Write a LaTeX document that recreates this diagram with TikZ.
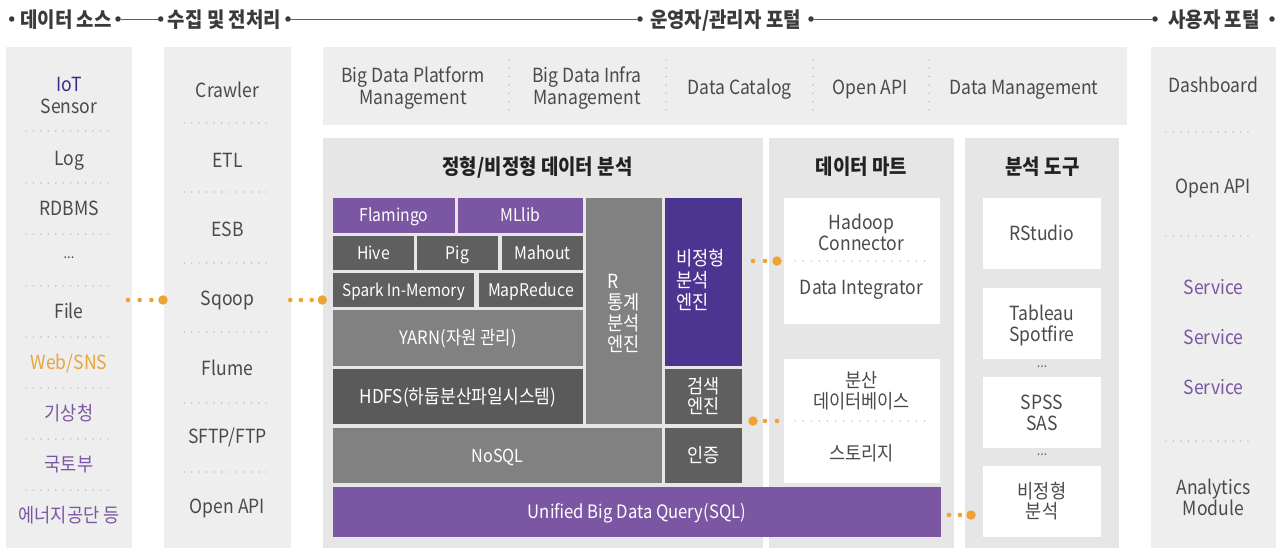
\documentclass[tikz,border=0pt]{standalone}
\usepackage{fontspec}
\setmainfont{Noto Sans CJK KR}[FakeStretch=0.9]
\usetikzlibrary{fit}
\definecolor{colbg}{HTML}{EEEEEE}
\definecolor{panelbg}{HTML}{E6E6E6}
\definecolor{txt}{HTML}{4A4A4A}
\definecolor{hdrc}{HTML}{3A3A3A}
\definecolor{ttlc}{HTML}{222222}
\definecolor{dkgray}{HTML}{5F5F5F}
\definecolor{dkgrayb}{HTML}{5A5A5A}
\definecolor{mdgray}{HTML}{818181}
\definecolor{lpurple}{HTML}{7B56A3}
\definecolor{dpurple}{HTML}{4C3590}
\definecolor{iotblue}{HTML}{372C8C}
\definecolor{orng}{HTML}{EFA236}
\definecolor{webor}{HTML}{E8A53C}
\definecolor{dotgray}{HTML}{A8A8A8}
\newcommand\tx[1]{\smash{#1}\rule{0pt}{0.73em}}
\newcommand\fs[2]{\fontsize{#1}{#2}\selectfont}
\tikzset{
  every node/.style={inner sep=0pt,outer sep=0pt},
  rect/.style={fit={#1}, inner sep=0pt, outer sep=0pt, draw=none},
  itm/.style={font=\fs{19.5}{22}, text=txt, align=center},
  kitm/.style={font=\fs{19.5}{21}, text=txt, align=center},
  btxt/.style={font=\fs{17.5}{21}, text=white, align=center},
  kbtxt/.style={font=\fs{19.5}{21}, text=white, align=center},
  hdr/.style={font=\bfseries\fs{21}{22}, text=hdrc},
  ttl/.style={font=\bfseries\fs{21}{22}, text=ttlc},
  bul/.style={circle, fill=hdrc, minimum size=5.5pt},
  hline/.style={draw=hdrc!80, line width=0.8pt},
  dotl/.style={draw=dotgray, line width=1.4pt, line cap=round, dash pattern=on 0pt off 7.45pt},
  vdotl/.style={draw=dotgray, line width=1.4pt, line cap=round, dash pattern=on 0pt off 8.3pt},
  odots/.style={draw=orng, line width=4.6pt, line cap=round, dash pattern=on 0pt off #1},
  bigdot/.style={circle, fill=orng, minimum size=9.5pt},
}
\begin{document}
\begin{tikzpicture}[x=1pt,y=-1pt]
\fill[white] (0,0) rectangle (1286,548);
\useasboundingbox (0,0) rectangle (1286,548);

% ---------- backgrounds ----------
\node[rect={(6,47) (132,548)}, fill=colbg] (src) {};
\node[rect={(164,47) (291,548)}, fill=colbg] (col) {};
\node[rect={(323,47) (1127,125)}, fill=colbg] (admin) {};
\node[rect={(1151,47) (1276,548)}, fill=colbg] (user) {};
\node[rect={(323,138) (763,548)}, fill=panelbg] (ana) {};
\node[rect={(769,138) (954,548)}, fill=panelbg] (mart) {};
\node[rect={(965,138) (1119,548)}, fill=panelbg] (tools) {};

% ---------- header ----------
\node[bul] (b1) at (11.7,19) {};
\node[bul] (b2) at (118,19) {};
\node[bul] (b3) at (160.7,19) {};
\node[bul] (b4) at (288,19) {};
\node[bul] (b5) at (640,19) {};
\node[bul] (b6) at (811,19) {};
\node[bul] (b7) at (1155,19) {};
\node[bul] (b8) at (1272,19) {};
\node[hdr] (h1) at (66,19.5) {\tx{데이터 소스}};
\node[hdr] (h2) at (224.4,19.5) {\tx{수집 및 전처리}};
\node[hdr] (h3) at (725.5,19.5) {\tx{운영자/관리자 포털}};
\node[hdr] (h4) at (1214,19.5) {\tx{사용자 포털}};
\draw[hline] (b2) -- (b3);
\draw[hline] (b4) -- (b5);
\draw[hline] (b6) -- (b7);

% ---------- data source column ----------
\foreach \y in {131,183,234,286,337,388,439,490} \draw[dotl] (26,\y) -- (108.3,\y);
\node[itm] (iot) at (69,95) {\tx{\textcolor{iotblue}{IoT}}\\\tx{Sensor}};
\node[itm] (log) at (69,158) {\tx{Log}};
\node[itm] (rdb) at (69,208) {\tx{RDBMS}};
\node[itm, font=\fs{14}{16}] (sdots) at (69,258) {...};
\node[itm] (file) at (69,311) {\tx{File}};
\node[itm, text=webor] (web) at (69,362) {\tx{Web/SNS}};
\node[kitm, text=lpurple] (kma) at (69,413) {\tx{기상청}};
\node[kitm, text=lpurple] (molit) at (69,464) {\tx{국토부}};
\node[kitm, text=lpurple] (kea) at (69,515) {\tx{에너지공단 등}};

% ---------- collection column ----------
\foreach \y in {123,192,263,332,403,472} \draw[dotl] (184.3,\y) -- (266.7,\y);
\node[itm] (crawl) at (227.5,90) {\tx{Crawler}};
\node[itm] (etl) at (227.5,160) {\tx{ETL}};
\node[itm] (esb) at (227.5,229) {\tx{ESB}};
\node[itm] (sqoop) at (227.5,298) {\tx{Sqoop}};
\node[itm] (flume) at (227.5,368) {\tx{Flume}};
\node[itm] (sftp) at (227.5,436) {\tx{SFTP/FTP}};
\node[itm] (oapi1) at (227.5,506) {\tx{Open API}};

% ---------- admin portal ----------
\foreach \x in {509,666,813,929} \draw[vdotl] (\x,60) -- (\x,110);
\node[itm] (bdpm) at (413,86) {\tx{Big Data Platform}\\\tx{Management}};
\node[itm] (bdim) at (587,86) {\tx{Big Data Infra}\\\tx{Management}};
\node[itm] (dcat) at (739.5,87) {\tx{Data Catalog}};
\node[itm] (oapi2) at (870,87) {\tx{Open API}};
\node[itm] (dman) at (1024,87) {\tx{Data Management}};

% ---------- analysis panel ----------
\node[ttl] (t1) at (537.5,167) {\tx{정형/비정형 데이터 분석}};
\node[rect={(333,198) (455,233)}, fill=lpurple] (flam) {};
\node[btxt] at (flam.center) {\tx{Flamingo}};
\node[rect={(458,198) (583,233)}, fill=lpurple] (mllib) {};
\node[btxt] at (mllib.center) {\tx{MLlib}};
\node[rect={(333,236) (414,270)}, fill=dkgray] (hive) {};
\node[btxt] at (hive.center) {\tx{Hive}};
\node[rect={(417,236) (498,270)}, fill=dkgray] (pig) {};
\node[btxt] at (pig.center) {\tx{Pig}};
\node[rect={(502,236) (583,270)}, fill=dkgray] (mahout) {};
\node[btxt] at (mahout.center) {\tx{Mahout}};
\node[rect={(333,273) (474,307)}, fill=dkgray] (spark) {};
\node[btxt, font=\fs{17}{21}] at (spark.center) {\tx{Spark In-Memory}};
\node[rect={(479,273) (583,307)}, fill=dkgray] (mapr) {};
\node[btxt] at (mapr.center) {\tx{MapReduce}};
\node[rect={(333,310) (583,366)}, fill=mdgray] (yarn) {};
\node[btxt, font=\fs{18.5}{21}] at (yarn.center) {\tx{YARN(자원 관리)}};
\node[rect={(333,369) (583,424)}, fill=dkgrayb] (hdfs) {};
\node[btxt, font=\fs{19}{21}] at (hdfs.center) {\tx{HDFS(하둡분산파일시스템)}};
\node[rect={(586,198) (662,424)}, fill=mdgray] (reng) {};
\node[kbtxt, align=left, anchor=west] (rtxt) at (607,312.5) {\tx{R}\\\tx{통계}\\\tx{분석}\\\tx{엔진}};
\node[rect={(665,198) (742,366)}, fill=dpurple] (ueng) {};
\node[kbtxt, align=left, anchor=west, font=\fs{19.5}{22}] (utxt) at (676,280) {\tx{비정형}\\\tx{분석}\\\tx{엔진}};
\node[rect={(665,369) (742,424)}, fill=dkgray] (seng) {};
\node[kbtxt, font=\fs{19.5}{20}] at (seng.center) {\tx{검색}\\\tx{엔진}};
\node[rect={(333,428) (662,483)}, fill=mdgray] (nosql) {};
\node[btxt, font=\fs{18}{21}] at (nosql.center) {\tx{NoSQL}};
\node[rect={(665,428) (742,483)}, fill=dkgray] (auth) {};
\node[kbtxt] at (auth.center) {\tx{인증}};

% ---------- data mart ----------
\node[ttl] (t2) at (861.5,167) {\tx{데이터 마트}};
\node[rect={(784,198) (940,324)}, fill=white] (dm1) {};
\node[itm, font=\fs{19.5}{20.5}] (hadoop) at (861.5,233) {\tx{Hadoop}\\\tx{Connector}};
\draw[dotl, dash pattern=on 0pt off 8.1pt] (795,261) -- (925,261);
\node[itm] (dint) at (861.5,287) {\tx{Data Integrator}};
\node[rect={(784,359) (940,483)}, fill=white] (dm2) {};
\node[kitm] (ddb) at (861.5,390.5) {\tx{분산}\\\tx{데이터베이스}};
\draw[dotl, dash pattern=on 0pt off 8.1pt] (795,421) -- (925,421);
\node[kitm] (stor) at (861.5,453) {\tx{스토리지}};

% ---------- tools ----------
\node[ttl] (t3) at (1042.5,167) {\tx{분석 도구}};
\node[rect={(983,198) (1101,269)}, fill=white] (rstu) {};
\node[itm] at (rstu.center) {\tx{RStudio}};
\node[rect={(983,288) (1101,359)}, fill=white] (tabl) {};
\node[itm, font=\fs{19.5}{21}] at (tabl.center) {\tx{Tableau}\\\tx{Spotfire}};
\node[itm, font=\fs{14}{16}, text=txt!80] (tdots1) at (1042,367) {...};
\node[rect={(983,377) (1101,448)}, fill=white] (spss) {};
\node[itm, font=\fs{19.5}{21}] at (spss.center) {\tx{SPSS}\\\tx{SAS}};
\node[itm, font=\fs{14}{16}, text=txt!80] (tdots2) at (1042,455) {...};
\node[rect={(983,466) (1101,537)}, fill=white] (uana) {};
\node[kitm, font=\fs{19.5}{20.5}] at (uana.center) {\tx{비정형}\\\tx{분석}};

% ---------- unified query bar ----------
\node[rect={(333,487) (941,537)}, fill=lpurple] (sql) {};
\node[btxt, font=\fs{18.5}{21}] at (sql.center) {\tx{Unified Big Data Query(SQL)}};

% ---------- user portal ----------
\foreach \y in {132,236,441} \draw[dotl] (1166,\y) -- (1248,\y);
\node[itm] (dash) at (1213.5,85) {\tx{Dashboard}};
\node[itm] (oapi3) at (1213.5,186) {\tx{Open API}};
\node[itm, text=lpurple] (sv1) at (1213.5,287) {\tx{Service}};
\node[itm, text=lpurple] (sv2) at (1213.5,337) {\tx{Service}};
\node[itm, text=lpurple] (sv3) at (1213.5,387) {\tx{Service}};
\node[itm, font=\fs{19.5}{21}] (amod) at (1213.5,497.5) {\tx{Analytics}\\\tx{Module}};

% ---------- orange dot connectors ----------
\coordinate (c1a) at (128,300);
\node[bigdot] (c1b) at (163,300) {};
\draw[odots=11.67pt] (c1a) -- (c1b.center);
\coordinate (c2a) at (290.3,300);
\node[bigdot] (c2b) at (322.3,300) {};
\draw[odots=10.67pt] (c2a) -- (c2b.center);
\coordinate (c3a) at (753,261);
\node[bigdot] (c3b) at (777,261) {};
\draw[odots=12pt] (c3a) -- (c3b.center);
\coordinate (c4a) at (777,421);
\node[bigdot] (c4b) at (753,421) {};
\draw[odots=12pt] (c4a) -- (c4b.center);
\coordinate (c5a) at (949,515);
\node[bigdot] (c5b) at (971,515) {};
\draw[odots=11pt] (c5a) -- (c5b.center);
\end{tikzpicture}
\end{document}
